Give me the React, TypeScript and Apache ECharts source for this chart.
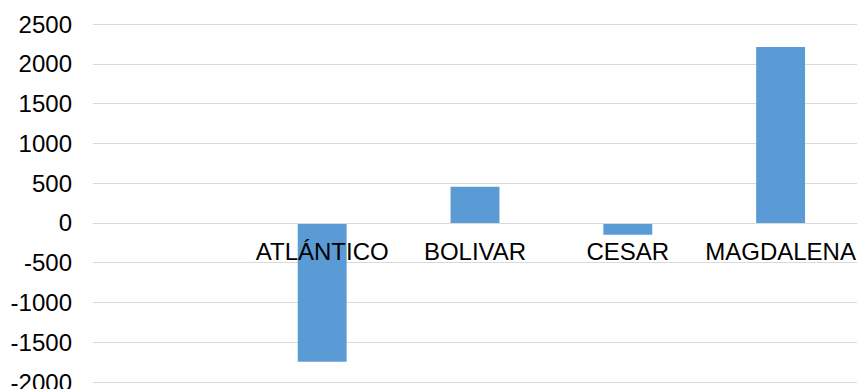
import React, { useEffect, useRef } from "react";
import * as echarts from "echarts";

const categories = ["", "ATLÁNTICO", "BOLIVAR", "CESAR", "MAGDALENA"];
const values: (number | null)[] = [null, -1745, 455, -150, 2212];
const yMin = -2000;
const yMax = 2500;
const yStep = 500;

const W = 859;
const H = 389;
const gridTop = 24;
const gridBottom = 7;

export default function App() {
  const ref = useRef<HTMLDivElement>(null);
  useEffect(() => {
    if (!ref.current) return;
    const chart = echarts.init(ref.current, null, { renderer: "svg" });
    const plotH = H - gridTop - gridBottom;
    const zeroOffset = -((0 - yMin) / (yMax - yMin)) * plotH;
    chart.setOption({
      animation: false,
      grid: { left: 93, right: 2, top: gridTop, bottom: gridBottom, containLabel: false, outerBoundsMode: "none" },
      xAxis: {
        type: "category",
        data: categories,
        position: "bottom",
        offset: zeroOffset,
        z: 5,
        axisLine: { show: true, onZero: false, lineStyle: { color: "#d9d9d9", width: 1 } },
        axisTick: { show: false },
        axisLabel: {
          interval: 0,
          margin: 17,
          color: "#000",
          fontFamily: "Liberation Sans, Arial, sans-serif",
          fontSize: 24,
        },
      },
      yAxis: {
        type: "value",
        min: yMin,
        max: yMax,
        interval: yStep,
        axisLine: { show: false },
        axisTick: { show: false },
        axisLabel: {
          margin: 21,
          color: "#000",
          fontFamily: "Liberation Sans, Arial, sans-serif",
          fontSize: 24,
          formatter: (v: number) => String(v),
        },
        splitLine: { lineStyle: { color: "#d9d9d9", width: 1 } },
      },
      series: [
        {
          type: "bar",
          data: values,
          barWidth: "32%",
          itemStyle: { color: "#5b9bd5" },
        },
      ],
    });
    return () => chart.dispose();
  }, []);
  return <div ref={ref} style={{ width: W, height: H, position: "absolute", left: 0, top: 0 }} />;
}
